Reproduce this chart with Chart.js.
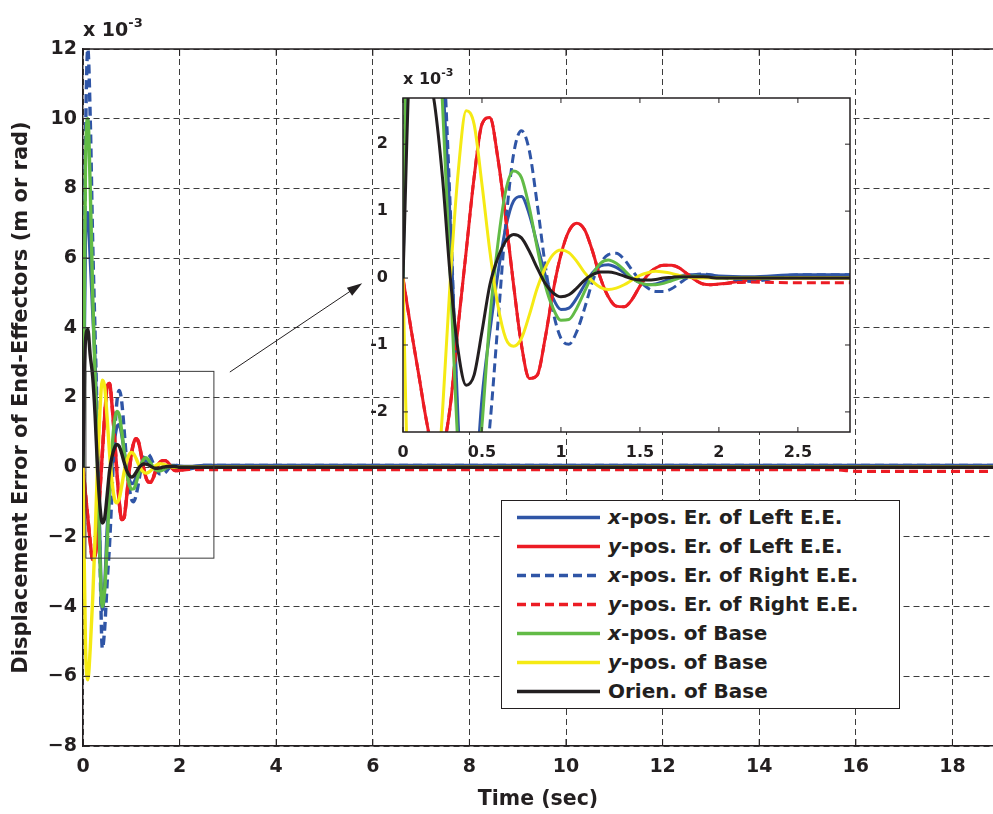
<!DOCTYPE html>
<html>
<head>
<meta charset="utf-8">
<script src="https://cdn.jsdelivr.net/npm/chart.js@4.4.1/dist/chart.umd.min.js"></script>
<style>
  body { margin: 0; width: 993px; height: 814px; position: relative; background: #fff; overflow: hidden;
         font-family: 'DejaVu Sans', sans-serif; font-weight: bold; color: #231f20; }
  canvas { position: absolute; }
  .expo { position: absolute; white-space: nowrap; }
  .expo sup { position: relative; top: -2px; }
  #legend { position: absolute; left: 501px; top: 500px; width: 397px; height: 207px;
            border: 1.5px solid #231f20; background: #fff; }
  .row { position: absolute; left: 0; height: 29px; width: 100%; font-size: 20px; line-height: 29px; }
  .row svg { position: absolute; left: 15px; top: 0; }
  .row span.t { position: absolute; left: 106px; top: 0; }
</style>
</head>
<body>
<canvas id="mainChart" width="993" height="814" style="left:0;top:0"></canvas>
<canvas id="insetChart" width="500" height="400" style="left:360px;top:60px"></canvas>

<div class="expo" style="left:83px;top:17px;font-size:19px">x 10<sup style="font-size:13px">-3</sup></div>
<div class="expo" style="left:403px;top:68px;font-size:16px">x 10<sup style="font-size:11px">-3</sup></div>

<div id="legend"></div>

<script>
// time samples (sec)
const times = [0, 0.05, 0.1, 0.15, 0.2, 0.25, 0.3, 0.35, 0.4, 0.45,
  0.5, 0.55, 0.6, 0.65, 0.7, 0.75, 0.8, 0.85, 0.9, 0.95,
  1.0, 1.05, 1.1, 1.15, 1.2, 1.25, 1.3, 1.35, 1.4, 1.45,
  1.5, 1.55, 1.6, 1.65, 1.7, 1.75, 1.8, 1.85, 1.9, 1.95,
  2.0, 2.2, 2.5, 2.8, 3.5, 6, 10, 15.5, 16.1, 18.84];

// errors, x 10^-3
const xLeft = [0, 6.5, 7.3, 6.0, 4.5, 3.0, 0.8, -2.2, -4.1, -3.4,
  -1.8, -0.8, 0.05, 0.75, 1.15, 1.22, 0.95, 0.5, 0.05, -0.3,
  -0.47, -0.45, -0.3, -0.1, 0.08, 0.18, 0.2, 0.16, 0.08, 0.0,
  -0.07, -0.1, -0.09, -0.05, 0.0, 0.03, 0.05, 0.05, 0.05, 0.04,
  0.03, 0.02, 0.05, 0.05, 0.05, 0.05, 0.05, 0.05, 0.05, 0.05];
const yLeft = [0, -0.75, -1.45, -2.15, -2.65, -2.55, -1.9, -0.7, 0.4, 1.5,
  2.3, 2.4, 1.8, 0.9, -0.1, -1.0, -1.5, -1.45, -0.9, -0.2,
  0.35, 0.7, 0.82, 0.72, 0.4, 0.0, -0.28, -0.42, -0.43, -0.32,
  -0.12, 0.05, 0.15, 0.19, 0.19, 0.15, 0.06, -0.03, -0.09, -0.1,
  -0.09, -0.03, 0.0, 0.0, 0.0, 0.0, 0.0, 0.0, 0.0, 0.0];
const xRight = [0, 9.0, 12.0, 10.0, 6.5, 3.8, 1.0, -2.5, -5.2, -4.6,
  -3.3, -2.2, -0.7, 0.8, 1.85, 2.2, 1.9, 1.1, 0.2, -0.5,
  -0.9, -0.99, -0.8, -0.45, -0.05, 0.22, 0.35, 0.37, 0.28, 0.12,
  -0.04, -0.15, -0.2, -0.2, -0.16, -0.08, 0.0, 0.05, 0.06, 0.05,
  0.02, -0.05, 0.05, 0.05, 0.05, 0.05, 0.05, 0.05, 0.05, 0.05];
const yRight = [0, -0.75, -1.45, -2.15, -2.65, -2.55, -1.9, -0.7, 0.4, 1.5,
  2.3, 2.4, 1.8, 0.9, -0.1, -1.0, -1.5, -1.45, -0.9, -0.2,
  0.35, 0.7, 0.82, 0.72, 0.4, 0.0, -0.28, -0.42, -0.43, -0.32,
  -0.12, 0.05, 0.15, 0.19, 0.19, 0.15, 0.06, -0.03, -0.09, -0.1,
  -0.09, -0.06, -0.07, -0.07, -0.07, -0.07, -0.07, -0.07, -0.12, -0.12];
const xBase = [0, 8.5, 10.0, 8.0, 5.0, 2.6, 0.0, -2.6, -4.0, -3.5,
  -2.2, -0.6, 0.5, 1.3, 1.6, 1.5, 1.05, 0.45, -0.1, -0.45,
  -0.63, -0.62, -0.45, -0.2, 0.05, 0.22, 0.27, 0.22, 0.12, 0.0,
  -0.07, -0.1, -0.1, -0.08, -0.04, 0.0, 0.02, 0.03, 0.02, 0.01,
  0.0, 0.0, 0.0, 0.0, 0.0, 0.0, 0.0, 0.0, 0.0, 0.0];
const yBase = [0, -5.0, -6.1, -5.2, -3.8, -2.0, 0.0, 1.6, 2.5, 2.3,
  1.4, 0.4, -0.4, -0.9, -1.02, -0.9, -0.55, -0.15, 0.15, 0.35,
  0.42, 0.38, 0.25, 0.08, -0.05, -0.14, -0.17, -0.15, -0.1, -0.03,
  0.04, 0.08, 0.1, 0.09, 0.07, 0.04, 0.02, 0.0, 0.0, 0.0,
  0.0, 0.0, 0.0, 0.0, 0.0, 0.0, 0.0, 0.0, 0.0, 0.0];
const orienBase = [0, 3.6, 3.95, 3.2, 2.6, 1.5, 0.0, -1.1, -1.6, -1.45,
  -0.8, -0.1, 0.3, 0.55, 0.65, 0.6, 0.4, 0.15, -0.08, -0.22,
  -0.28, -0.25, -0.15, -0.03, 0.05, 0.09, 0.09, 0.07, 0.03, -0.01,
  -0.03, -0.03, -0.02, 0.0, 0.01, 0.02, 0.02, 0.02, 0.02, 0.01,
  0.0, 0.0, 0.0, 0.0, 0.0, 0.0, 0.0, 0.0, 0.0, 0.0];

const mainXRange = [0, 18.84];   // axis range (sec)
const mainYRange = [-8, 12];
const insetXRange = [0, 2.83];
const insetYRange = [-2.3, 2.69];

// zoom box and arrow, data units of the main chart
const zoomBox = { x0: 0.06, x1: 2.71, y0: -2.61, y1: 2.75 };
const arrow = { x0: 3.04, y0: 2.73, x1: 5.78, y1: 5.28 };

const BLUE = '#2f55a6', RED = '#ec1c24', GREEN = '#62bb46', YELLOW = '#f5ea14', BLACK = '#231f20';
const FONT = 'DejaVu Sans';

const series = [
  { it: 'x', rest: '-pos. Er. of Left E.E.', data: xLeft, color: BLUE, dash: [], order: 7 },
  { it: 'y', rest: '-pos. Er. of Left E.E.', data: yLeft, color: RED, dash: [], order: 6 },
  { it: 'x', rest: '-pos. Er. of Right E.E.', data: xRight, color: BLUE, dash: [9, 5], order: 5 },
  { it: 'y', rest: '-pos. Er. of Right E.E.', data: yRight, color: RED, dash: [9, 5], order: 4 },
  { it: 'x', rest: '-pos. of Base', data: xBase, color: GREEN, dash: [], order: 3 },
  { it: 'y', rest: '-pos. of Base', data: yBase, color: YELLOW, dash: [], order: 2 },
  { it: '', rest: 'Orien. of Base', data: orienBase, color: BLACK, dash: [], order: 1 },
];

function makeDatasets(width) {
  return series.map(s => ({
    label: s.it + s.rest,
    data: times.map((t, i) => ({ x: t, y: s.data[i] })),
    borderColor: s.color,
    borderWidth: width,
    borderDash: s.dash,
    pointRadius: 0,
    cubicInterpolationMode: 'monotone',
    fill: false,
    order: s.order,
  }));
}

const minus = v => (v < 0 ? '\u2212' + Math.abs(v) : '' + v);

// main chart extras: solid top frame, inward ticks, zoom box, arrow
const mainExtras = {
  id: 'mainExtras',
  afterDraw(chart) {
    const { ctx, chartArea: a, scales: { x, y } } = chart;
    ctx.save();
    ctx.strokeStyle = BLACK;
    ctx.lineWidth = 1.5;
    ctx.beginPath();
    ctx.moveTo(a.left, a.top); ctx.lineTo(a.right, a.top);
    ctx.stroke();
    ctx.lineWidth = 1;
    ctx.beginPath();
    x.ticks.forEach(t => {
      const px = x.getPixelForValue(t.value);
      ctx.moveTo(px, a.bottom); ctx.lineTo(px, a.bottom - 7);
      ctx.moveTo(px, a.top); ctx.lineTo(px, a.top + 7);
    });
    y.ticks.forEach(t => {
      const py = y.getPixelForValue(t.value);
      ctx.moveTo(a.left, py); ctx.lineTo(a.left + 7, py);
    });
    ctx.stroke();

    // zoom rectangle
    ctx.strokeStyle = '#3a3a3a';
    ctx.lineWidth = 1;
    const rx0 = x.getPixelForValue(zoomBox.x0), rx1 = x.getPixelForValue(zoomBox.x1);
    const ry0 = y.getPixelForValue(zoomBox.y1), ry1 = y.getPixelForValue(zoomBox.y0);
    ctx.strokeRect(rx0, ry0, rx1 - rx0, ry1 - ry0);

    // arrow
    const ax0 = x.getPixelForValue(arrow.x0), ay0 = y.getPixelForValue(arrow.y0);
    const ax1 = x.getPixelForValue(arrow.x1), ay1 = y.getPixelForValue(arrow.y1);
    const ang = Math.atan2(ay1 - ay0, ax1 - ax0);
    ctx.strokeStyle = BLACK;
    ctx.beginPath();
    ctx.moveTo(ax0, ay0);
    ctx.lineTo(ax1 - 10 * Math.cos(ang), ay1 - 10 * Math.sin(ang));
    ctx.stroke();
    ctx.fillStyle = BLACK;
    ctx.beginPath();
    ctx.moveTo(ax1, ay1);
    ctx.lineTo(ax1 - 16 * Math.cos(ang - 0.3), ay1 - 16 * Math.sin(ang - 0.3));
    ctx.lineTo(ax1 - 16 * Math.cos(ang + 0.3), ay1 - 16 * Math.sin(ang + 0.3));
    ctx.closePath();
    ctx.fill();
    ctx.restore();
  }
};

new Chart(document.getElementById('mainChart'), {
  type: 'line',
  data: { datasets: makeDatasets(3.4) },
  options: {
    responsive: false,
    animation: false,
    layout: { padding: { top: 49, left: 0, right: 0, bottom: 0 } },
    plugins: { legend: { display: false }, tooltip: { enabled: false } },
    scales: {
      x: {
        type: 'linear',
        min: mainXRange[0],
        max: mainXRange[1],
        afterFit: s => { s.height = 68; },
        ticks: { stepSize: 2, includeBounds: false, maxRotation: 0, padding: 10,
                 color: BLACK, font: { family: FONT, size: 19, weight: 'bold' } },
        grid: { color: '#3c3c3c', lineWidth: 1, drawTicks: false },
        border: { display: true, color: BLACK, width: 1.5, dash: [6, 4] },
        title: { display: true, text: 'Time (sec)', color: BLACK, padding: { top: 0, bottom: 2 },
                 font: { family: FONT, size: 20.5, weight: 'bold' } },
      },
      y: {
        min: mainYRange[0],
        max: mainYRange[1],
        afterFit: s => { s.width = 83; },
        ticks: { stepSize: 2, includeBounds: false, padding: 6, callback: minus,
                 color: BLACK, font: { family: FONT, size: 19, weight: 'bold' } },
        grid: { color: '#3c3c3c', lineWidth: 1, drawTicks: false },
        border: { display: true, color: BLACK, width: 1.5, dash: [6, 4] },
        title: { display: true, text: 'Displacement Error of End-Effectors (m or rad)', color: BLACK,
                 padding: { top: 9, bottom: 0 }, font: { family: FONT, size: 21, weight: 'bold' } },
      },
    },
  },
  plugins: [mainExtras],
});

// inset: white plot area, full box, inward ticks on all sides
const insetExtras = {
  id: 'insetExtras',
  beforeDraw(chart) {
    const { ctx, chartArea: a } = chart;
    ctx.save();
    ctx.fillStyle = '#fff';
    ctx.fillRect(a.left, a.top, a.right - a.left, a.bottom - a.top);
    ctx.restore();
  },
  afterDraw(chart) {
    const { ctx, chartArea: a, scales: { x, y } } = chart;
    ctx.save();
    ctx.strokeStyle = BLACK;
    ctx.lineWidth = 1.5;
    ctx.strokeRect(a.left, a.top, a.right - a.left, a.bottom - a.top);
    ctx.lineWidth = 1;
    ctx.beginPath();
    x.ticks.forEach(t => {
      const px = x.getPixelForValue(t.value);
      ctx.moveTo(px, a.bottom); ctx.lineTo(px, a.bottom - 5);
      ctx.moveTo(px, a.top); ctx.lineTo(px, a.top + 5);
    });
    y.ticks.forEach(t => {
      const py = y.getPixelForValue(t.value);
      ctx.moveTo(a.left, py); ctx.lineTo(a.left + 5, py);
      ctx.moveTo(a.right, py); ctx.lineTo(a.right - 5, py);
    });
    ctx.stroke();
    ctx.restore();
  }
};

new Chart(document.getElementById('insetChart'), {
  type: 'line',
  data: { datasets: makeDatasets(3) },
  options: {
    responsive: false,
    animation: false,
    layout: { padding: { top: 38, left: 0, right: 10, bottom: 0 } },
    plugins: { legend: { display: false }, tooltip: { enabled: false } },
    scales: {
      x: {
        type: 'linear',
        min: insetXRange[0],
        max: insetXRange[1],
        afterFit: s => { s.height = 28; },
        ticks: { stepSize: 0.5, includeBounds: false, maxRotation: 0, padding: 3,
                 callback: v => String(Math.round(v * 10) / 10),
                 color: BLACK, font: { family: FONT, size: 16, weight: 'bold' } },
        grid: { display: false },
        border: { display: false },
      },
      y: {
        min: insetYRange[0],
        max: insetYRange[1],
        afterFit: s => { s.width = 43; },
        ticks: { stepSize: 1, includeBounds: false, padding: 7,
                 callback: v => String(Math.round(v)),
                 color: BLACK, font: { family: FONT, size: 16, weight: 'bold' } },
        grid: { display: false },
        border: { display: false },
      },
    },
  },
  plugins: [insetExtras],
});

// legend box
const legend = document.getElementById('legend');
series.forEach((s, i) => {
  const row = document.createElement('div');
  row.className = 'row';
  row.style.top = (2 + i * 29) + 'px';
  const dash = s.dash.length ? `stroke-dasharray="${s.dash.join(' ')}"` : '';
  row.innerHTML =
    `<svg width="84" height="29"><line x1="0" y1="14.5" x2="83" y2="14.5" stroke="${s.color}" stroke-width="3.5" ${dash}/></svg>` +
    `<span class="t">${s.it ? '<i>' + s.it + '</i>' : ''}${s.rest}</span>`;
  legend.appendChild(row);
});
</script>
</body>
</html>
